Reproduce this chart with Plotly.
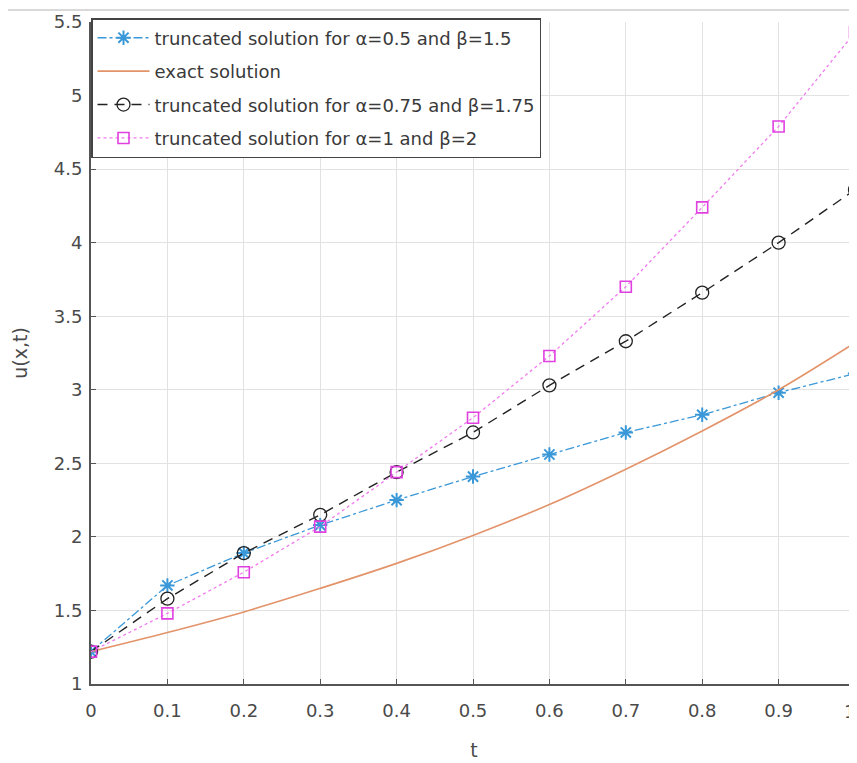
import plotly.graph_objects as go

t = [0.0, 0.1, 0.2, 0.3, 0.4, 0.5, 0.6, 0.7, 0.8, 0.9, 1.0]
u_a05 = [1.22, 1.67, 1.89, 2.08, 2.25, 2.41, 2.56, 2.71, 2.83, 2.98, 3.11]
u_exact = [1.22, 1.35, 1.49, 1.65, 1.82, 2.01, 2.22, 2.46, 2.72, 3.00, 3.32]
u_a075 = [1.22, 1.58, 1.89, 2.15, 2.44, 2.71, 3.03, 3.33, 3.66, 4.00, 4.36]
u_a1 = [1.22, 1.48, 1.76, 2.07, 2.44, 2.81, 3.23, 3.70, 4.24, 4.79, 5.43]

names = [
    "truncated solution for α=0.5 and β=1.5",
    "exact solution",
    "truncated solution for α=0.75 and β=1.75",
    "truncated solution for α=1 and β=2",
]
x_ticks = [0, 0.1, 0.2, 0.3, 0.4, 0.5, 0.6, 0.7, 0.8, 0.9, 1]
x_tick_text = ["0", "0.1", "0.2", "0.3", "0.4", "0.5", "0.6", "0.7", "0.8", "0.9", "1"]
y_ticks = [1, 1.5, 2, 2.5, 3, 3.5, 4, 4.5, 5, 5.5]

FONT = "DejaVu Sans, Liberation Sans, Arial, sans-serif"

fig = go.Figure()
fig.add_trace(go.Scatter(
    x=t, y=u_a05, name=names[0], mode="lines+markers", legendgroup="a",
    line=dict(color="#3a98d8", width=1.3, dash="dashdot"),
    marker=dict(symbol="asterisk-open", size=12, line=dict(color="#3a98d8", width=2)),
))
fig.add_trace(go.Scatter(
    x=t, y=u_exact, name=names[1], mode="lines", legendgroup="b",
    line=dict(color="#e3936a", width=1.6, shape="spline"),
))
fig.add_trace(go.Scatter(
    x=t, y=u_a075, name=names[2], mode="lines+markers", legendgroup="c",
    line=dict(color="#222222", width=1.4, dash="10px,7px"),
    marker=dict(symbol="circle-open", size=13, color="#222222", line=dict(color="#222222", width=1.3)),
))
fig.add_trace(go.Scatter(
    x=t, y=u_a1, name=names[3], mode="lines+markers", legendgroup="d",
    line=dict(color="#f27af0", width=1.3, dash="dot"),
    marker=dict(symbol="square-open", size=11, color="#e040e0", line=dict(color="#e040e0", width=1.6)),
))

axis_font = dict(family=FONT, size=18, color="#4a4a4a")
# the last tick label sits on the cropped right edge: draw it right-aligned to its tick
shown_tick_text = x_tick_text[:-1] + [""]
fig.add_annotation(
    x=x_ticks[-1], y=0, xref="x", yref="paper", text=x_tick_text[-1],
    showarrow=False, xanchor="right", yanchor="top", yshift=-15, xshift=2,
    font=axis_font,
)

fig.update_layout(
    width=849, height=755,
    margin=dict(l=83, r=0, t=14, b=79),
    paper_bgcolor="white", plot_bgcolor="white",
    font=dict(family=FONT, color="#333333"),
    showlegend=True,
    legend=dict(
        x=0, y=1.006, xanchor="left", yanchor="top",
        bgcolor="white", bordercolor="#444444", borderwidth=1.5,
        font=dict(family=FONT, size=18, color="#3a3a3a"),
        tracegroupgap=7, itemwidth=52,
    ),
    xaxis=dict(
        range=[0, 1.0026], tickvals=x_ticks, ticktext=shown_tick_text,
        showgrid=True, gridcolor="#e2e2e2", gridwidth=1,
        showline=True, linecolor="#555555", linewidth=2, mirror=False,
        ticks="inside", ticklen=5, tickcolor="#555555",
        tickfont=axis_font, zeroline=False,
        ticklabelstandoff=9, automargin=False,
        title=dict(text="t", font=dict(family=FONT, size=19, color="#4a4a4a"), standoff=24),
    ),
    yaxis=dict(
        range=[1, 5.5], tickvals=y_ticks,
        showgrid=True, gridcolor="#e2e2e2", gridwidth=1,
        showline=True, linecolor="#555555", linewidth=2,
        ticks="inside", ticklen=5, tickcolor="#555555",
        tickfont=axis_font, zeroline=False, ticklabelstandoff=3, automargin=False,
        title=dict(text="u(x,t)", font=dict(family=FONT, size=19, color="#4a4a4a"), standoff=21),
    ),
    shapes=[dict(type="line", xref="paper", yref="paper", x0=-0.12, x1=1.0, y0=1.018, y1=1.018,
                 line=dict(color="#cccccc", width=1.5))],
)

fig.write_html("out.html")
